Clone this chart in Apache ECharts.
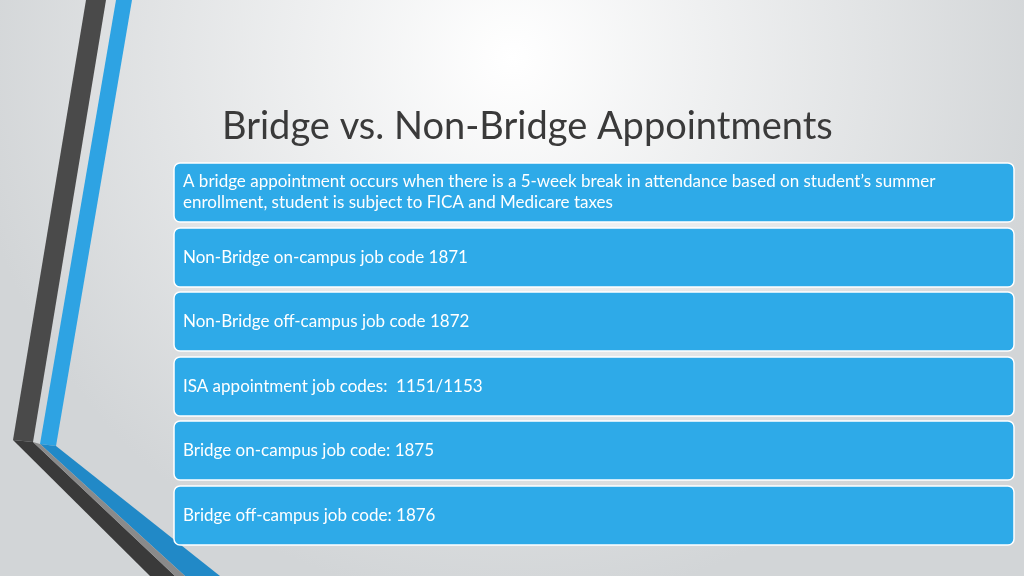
<!DOCTYPE html>
<html><head><meta charset="utf-8">
<script src="https://cdn.jsdelivr.net/npm/echarts@6/dist/echarts.min.js"></script>
<style>html,body{margin:0;padding:0}#c{width:1024px;height:576px}</style>
</head><body><div id="c"></div>
<script>
const title = "Bridge vs. Non-Bridge Appointments";
const boxTexts = [
  ["A bridge appointment occurs when there is a 5-week break in attendance based on student’s summer", "enrollment, student is subject to FICA and Medicare taxes"],
  ["Non-Bridge on-campus job code 1871"],
  ["Non-Bridge off-campus job code 1872"],
  ["ISA appointment job codes:  1151/1153"],
  ["Bridge on-campus job code: 1875"],
  ["Bridge off-campus job code: 1876"]
];
const chart = echarts.init(document.getElementById('c'));
const g = [];
g.push({type:'polygon',shape:{points:[[86,0],[106,0],[33,442],[13,440]]},style:{fill:'#4a4a4a'}});
g.push({type:'polygon',shape:{points:[[116,0],[132,0],[56,446],[40,444]]},style:{fill:'#2ea3e3'}});
g.push({type:'polygon',shape:{points:[[13,440],[33,442],[175,576],[150,576]]},style:{fill:'#3a3a3a'}});
g.push({type:'polygon',shape:{points:[[40,444],[56,446],[220,576],[185,576]]},style:{fill:'#2189c7'}});
g.push({type:'polygon',shape:{points:[[33,442],[40,444],[185,576],[175,576]]},style:{fill:'#8a8a8a'}});
g.push({type:'text',left:222,top:108,style:{text:title,font:'38px Lato, "Open Sans", sans-serif',fill:'#3a3a3a'}});
const tops=[163,228,292,357,421,486];
boxTexts.forEach((lines,i)=>{
  const h=59;
  g.push({type:'rect',shape:{x:174,y:tops[i],width:840,height:h,r:6},style:{fill:'#2eaae8',stroke:'#ffffff',lineWidth:1.5}});
  const lh=21;
  const y0=tops[i]+h/2-(lines.length*lh)/2;
  g.push({type:'text',x:183,y:y0,style:{text:lines.join('\n'),font:'17px Lato, "Open Sans", sans-serif',fill:'#ffffff',lineHeight:lh}});
});
chart.setOption({
  backgroundColor:{type:'radial',x:0.5,y:0.1,r:0.95,colorStops:[{offset:0,color:'#ffffff'},{offset:1,color:'#d2d5d7'}]},
  graphic:g
});
</script></body></html>
